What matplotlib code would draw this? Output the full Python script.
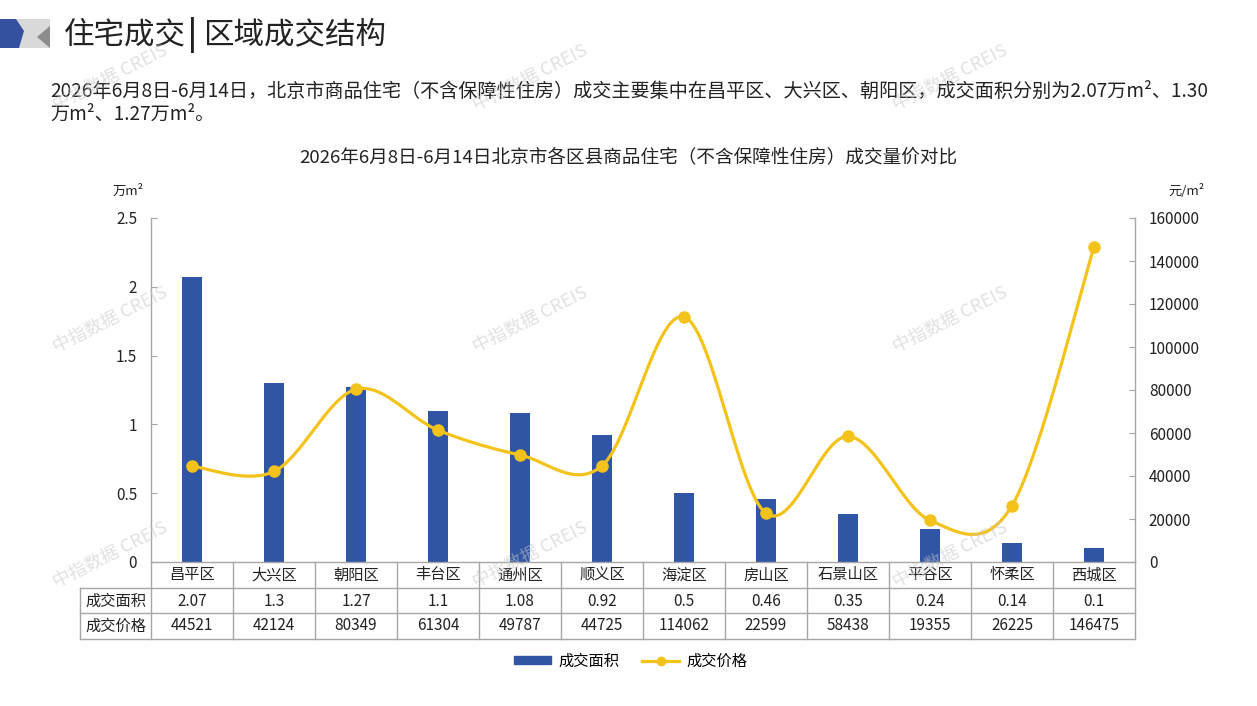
import numpy as np
import matplotlib
matplotlib.use("Agg")
import matplotlib.pyplot as plt
import matplotlib.transforms as mtransforms
from matplotlib.patches import Polygon
from matplotlib.lines import Line2D

plt.rcParams['font.family'] = ['Noto Sans CJK SC', 'DejaVu Sans']

districts = ['昌平区', '大兴区', '朝阳区', '丰台区', '通州区', '顺义区',
             '海淀区', '房山区', '石景山区', '平谷区', '怀柔区', '西城区']
area = [2.07, 1.3, 1.27, 1.1, 1.08, 0.92, 0.5, 0.46, 0.35, 0.24, 0.14, 0.1]
price = [44521, 42124, 80349, 61304, 49787, 44725, 114062, 22599, 58438,
         19355, 26225, 146475]
area_ticks = [0, 0.5, 1, 1.5, 2, 2.5]
price_ticks = [0, 20000, 40000, 60000, 80000, 100000, 120000, 140000, 160000]

W, H = 1257, 706
BLUE = '#2F55A4'
GOLD = '#F4C31B'
GRID = '#A6A6A6'
TXT = '#222222'

fig = plt.figure(figsize=(W / 100, H / 100), dpi=100)
fig.patch.set_facecolor('white')


def fx(px):
    return px / W


def fy(py):
    return 1 - py / H


# header icon
fig.add_artist(Polygon([(fx(15), fy(19)), (fx(50), fy(19)), (fx(50), fy(48)), (fx(15), fy(48))],
                       closed=True, transform=fig.transFigure, facecolor='#D9D9D9', edgecolor='none'))
fig.add_artist(Polygon([(fx(50), fy(26)), (fx(50), fy(48)), (fx(37), fy(37))],
                       closed=True, transform=fig.transFigure, facecolor='#8C8C8C', edgecolor='none'))
fig.add_artist(Polygon([(fx(0), fy(19)), (fx(16), fy(19)), (fx(24), fy(31)), (fx(19), fy(48)), (fx(0), fy(48))],
                       closed=True, transform=fig.transFigure, facecolor='#3650A0', edgecolor='none'))

fig.text(fx(64), fy(35), '住宅成交', fontsize=22, color=TXT, va='center', ha='left')
fig.text(fx(188), fy(35), '|', fontsize=22, color=TXT, va='center', ha='left', fontweight='bold')
fig.text(fx(203), fy(35), '区域成交结构', fontsize=22, color=TXT, va='center', ha='left')

para1 = ('2026年6月8日-6月14日，北京市商品住宅（不含保障性住房）成交主要集中在昌平区、'
         '大兴区、朝阳区，成交面积分别为2.07万m²、1.30')
para2 = '万m²、1.27万m²。'
fig.text(fx(50), fy(91), para1, fontsize=13.75, color=TXT, va='center', ha='left')
fig.text(fx(50), fy(114), para2, fontsize=13.75, color=TXT, va='center', ha='left')

fig.text(fx(628), fy(157), '2026年6月8日-6月14日北京市各区县商品住宅（不含保障性住房）成交量价对比',
         fontsize=13.4, color=TXT, va='center', ha='center')

# main axes
ax = fig.add_axes([fx(151), fy(562), fx(1135) - fx(151), fy(218) - fy(562)])
ax2 = ax.twinx()
x = np.arange(len(districts))
ax.bar(x, area, width=0.25, color=BLUE, zorder=2)
ax.set_xlim(-0.5, len(districts) - 0.5)
ax.set_ylim(0, 2.5)
ax.set_yticks(area_ticks)
ax.set_yticklabels([f'{t:g}' for t in area_ticks])
ax.set_xticks([])
ax2.set_ylim(0, 160000)
ax2.set_yticks(price_ticks)
ax2.set_yticklabels([str(t) for t in price_ticks])

for a in (ax, ax2):
    for s in ('top', 'bottom'):
        a.spines[s].set_visible(False)
    a.spines['left'].set_visible(a is ax)
    a.spines['right'].set_visible(a is ax2)
    a.spines['left'].set_color(GRID)
    a.spines['right'].set_color(GRID)
    a.spines['left'].set_linewidth(1)
    a.spines['right'].set_linewidth(1)
    a.tick_params(axis='y', direction='in', length=4, color=GRID, labelsize=11,
                  labelcolor=TXT, pad=10)
ax.patch.set_visible(False)

# smoothed price line (Excel-like Bezier smoothing in screen proportions)
sx = 82.0
sy = 344.0 / 160000
P = np.column_stack([x * sx, np.array(price, dtype=float) * sy])
pts = []
n = len(P)
t = np.linspace(0, 1, 30)
for i in range(n - 1):
    p0 = P[max(i - 1, 0)]
    p1 = P[i]
    p2 = P[i + 1]
    p3 = P[min(i + 2, n - 1)]
    c1 = p1 + (p2 - p0) / 6
    c2 = p2 - (p3 - p1) / 6
    seg = ((1 - t) ** 3)[:, None] * p1 + (3 * (1 - t) ** 2 * t)[:, None] * c1 + \
          (3 * (1 - t) * t ** 2)[:, None] * c2 + (t ** 3)[:, None] * p2
    pts.append(seg if i == 0 else seg[1:])
curve = np.vstack(pts)
ax2.plot(curve[:, 0] / sx, curve[:, 1] / sy, color=GOLD, lw=2.3, zorder=3,
         solid_capstyle='round')
ax2.plot(x, price, 'o', color=GOLD, ms=8, zorder=4)

# units
fig.text(fx(128), fy(191), '万m²', fontsize=9.5, color=TXT, ha='center', va='center')
fig.text(fx(1186), fy(191), '元/m²', fontsize=9.5, color=TXT, ha='center', va='center')

# data table under the axis
tr = mtransforms.blended_transform_factory(ax.transData, fig.transFigure)
left_edge = -0.5 - 71.0 / 82.0
right_edge = len(districts) - 0.5
rows = [562, 588, 613, 639]
lw = 1.0
fig.add_artist(Line2D([-0.5, right_edge], [fy(rows[0])] * 2, transform=tr, color=GRID, lw=lw))
for r in rows[1:]:
    fig.add_artist(Line2D([left_edge, right_edge], [fy(r)] * 2, transform=tr, color=GRID, lw=lw))
fig.add_artist(Line2D([left_edge, left_edge], [fy(rows[1]), fy(rows[3])], transform=tr, color=GRID, lw=lw))
for k in range(len(districts) + 1):
    fig.add_artist(Line2D([k - 0.5, k - 0.5], [fy(rows[0]), fy(rows[3])], transform=tr, color=GRID, lw=lw))

for i, name in enumerate(districts):
    fig.text(i, fy(575), name, transform=tr, ha='center', va='center', fontsize=11, color=TXT)
    fig.text(i, fy(601), f'{area[i]:g}', transform=tr, ha='center', va='center', fontsize=11, color=TXT)
    fig.text(i, fy(626), str(price[i]), transform=tr, ha='center', va='center', fontsize=11, color=TXT)
label_x = (left_edge - 0.5) / 2
fig.text(label_x, fy(601), '成交面积', transform=tr, ha='center', va='center', fontsize=11, color=TXT)
fig.text(label_x, fy(626), '成交价格', transform=tr, ha='center', va='center', fontsize=11, color=TXT)

# legend
handles = [plt.Rectangle((0, 0), 1, 1, color=BLUE),
           Line2D([0], [0], color=GOLD, lw=2.3, marker='o', ms=6)]
fig.legend(handles, ['成交面积', '成交价格'], loc='center', bbox_to_anchor=(fx(631), fy(661)),
           ncol=2, frameon=False, fontsize=11, handlelength=2.4, handleheight=0.5,
           columnspacing=1.5, handletextpad=0.5)

# watermarks
for wx in (110, 530, 950):
    for wy in (78, 320, 555):
        fig.text(fx(wx), fy(wy), '中指数据 CREIS', fontsize=13, color='#C8C8C8', alpha=0.55,
                 rotation=27, ha='center', va='center', zorder=10)

fig.savefig('out.png', dpi=100)
